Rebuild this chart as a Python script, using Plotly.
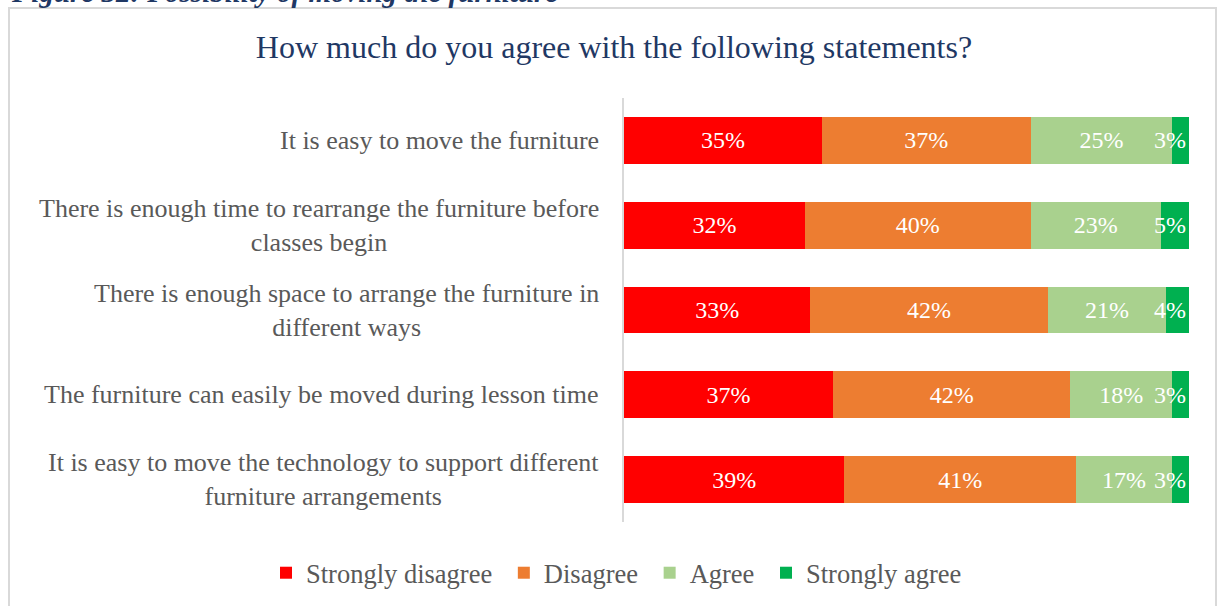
import plotly.graph_objects as go

# Survey statements (top to bottom) and response shares in percent
statements = [
    "It is easy to move the furniture",
    "There is enough time to rearrange the furniture before<br>classes begin",
    "There is enough space to arrange the furniture in<br>different ways",
    "The furniture can easily be moved during lesson time",
    "It is easy to move the technology to support different<br>furniture arrangements",
]
strongly_disagree = [35, 32, 33, 37, 39]
disagree = [37, 40, 42, 42, 41]
agree = [25, 23, 21, 18, 17]
strongly_agree = [3, 5, 4, 3, 3]

series_names = ["Strongly disagree", "Disagree", "Agree", "Strongly agree"]
series_values = [strongly_disagree, disagree, agree, strongly_agree]
series_colors = ["#FF0000", "#ED7D31", "#A9D18E", "#00B050"]

SERIF = "Liberation Serif"
W, H = 1218, 606
ML, MR, MT, MB = 624, 29, 98, 84
plot_w = W - ML - MR
plot_h = H - MT - MB

fig = go.Figure()
for i, (name, vals, col) in enumerate(zip(series_names, series_values, series_colors)):
    last = i == len(series_names) - 1
    fig.add_trace(go.Bar(
        y=statements,
        x=vals,
        # a non-breaking space widens the gap to the next legend entry
        name=name if last else name + "\u00a0",
        orientation="h",
        marker=dict(color=col, line=dict(width=0)),
        text=[f"{v}%" for v in vals],
        texttemplate="%{text}",
        textposition="inside",
        insidetextanchor="end" if last else "middle",
        textangle=0,
        constraintext="none",
        textfont=dict(family=SERIF, size=24, color="white"),
        hoverinfo="skip",
    ))

# Category labels, right aligned to the axis with centred lines
label_x = (601 - ML) / plot_w
annotations = []
for s in statements:
    annotations.append(dict(
        text=s, x=label_x, xref="paper", xanchor="right",
        y=s, yref="y", yanchor="middle", align="center", showarrow=False,
        font=dict(family=SERIF, size=26, color="#595959"),
    ))

# Figure caption above the chart frame
annotations.append(dict(
    text="<b><i>Figure 32: Possibility of moving the furniture</i></b>",
    x=(9 - ML) / plot_w, xref="paper", xanchor="left",
    y=(H - MB - 10) / plot_h, yref="paper", yanchor="bottom",
    showarrow=False,
    font=dict(family=SERIF, size=29, color="#1F3864"),
))

# Chart frame
frame = dict(
    type="rect", xref="paper", yref="paper",
    x0=(9 - ML) / plot_w, x1=(1216 - ML) / plot_w,
    y0=(H - MB - 640) / plot_h, y1=(H - MB - 8) / plot_h,
    line=dict(color="#D9D9D9", width=2), fillcolor="rgba(0,0,0,0)", layer="below",
)

fig.update_layout(
    width=W, height=H,
    barmode="stack",
    bargap=0.45,
    paper_bgcolor="white",
    plot_bgcolor="white",
    margin=dict(l=ML, r=MR, t=MT, b=MB, pad=0, autoexpand=False),
    title=dict(
        text="How much do you agree with the following statements?",
        x=614 / W, xanchor="center", y=1 - 47 / H, yanchor="middle",
        font=dict(family=SERIF, size=32, color="#1F3864"),
    ),
    xaxis=dict(range=[0, 100], visible=False, fixedrange=True),
    yaxis=dict(
        autorange="reversed", showticklabels=False, showgrid=False,
        showline=True, linecolor="#D9D9D9", linewidth=2, ticks="",
        zeroline=False,
    ),
    showlegend=True,
    legend=dict(
        orientation="h", xref="paper", yref="paper",
        x=(266 - ML) / plot_w, xanchor="left",
        y=-51 / plot_h, yanchor="middle",
        font=dict(family=SERIF, size=26.5, color="#595959"),
        traceorder="normal", itemclick=False, itemdoubleclick=False,
        itemwidth=30,
    ),
    annotations=annotations,
    shapes=[frame],
)

fig.write_html("out.html", config={"displayModeBar": False})
